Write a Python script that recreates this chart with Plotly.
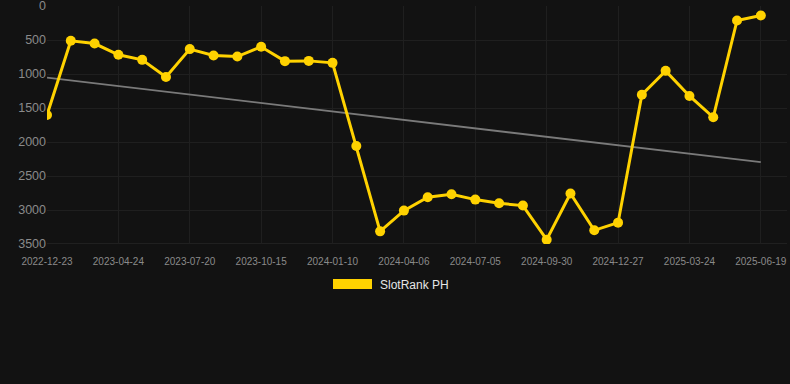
import plotly.graph_objects as go

dates = [
    "2022-12-23", "2023-01-31", "2023-03-10", "2023-04-24", "2023-05-23", "2023-06-21",
    "2023-07-20", "2023-08-18", "2023-09-16", "2023-10-15", "2023-11-13", "2023-12-12",
    "2024-01-10", "2024-02-08", "2024-03-08", "2024-04-06", "2024-05-06", "2024-06-05",
    "2024-07-05", "2024-08-03", "2024-09-01", "2024-09-30", "2024-10-29", "2024-11-28",
    "2024-12-27", "2025-01-25", "2025-02-23", "2025-03-24", "2025-04-22", "2025-05-21",
    "2025-06-19",
]
rank = [
    1603, 512, 552, 718, 792, 1043, 634, 729, 743, 600, 811, 807, 836, 2060,
    3314, 3009, 2813, 2768, 2847, 2901, 2935, 3437, 2758, 3299, 3186, 1304,
    954, 1323, 1637, 212, 139,
]
trend_x = [dates[0], dates[-1]]
trend_y = [1053, 2297]
tick_labels = dates[::3]
series_name = "SlotRank PH"
y_ticks = [0, 500, 1000, 1500, 2000, 2500, 3000, 3500]

BG = "#121212"
GOLD = "#FFD200"

fig = go.Figure()
fig.add_trace(go.Scatter(
    x=trend_x, y=trend_y, mode="lines",
    line=dict(color="#7a7a7a", width=1.8), showlegend=False, hoverinfo="skip",
))
fig.add_trace(go.Scatter(
    x=dates, y=rank, mode="lines+markers", name=series_name,
    line=dict(color=GOLD, width=3),
    marker=dict(color=GOLD, size=10),
    showlegend=False,
))

fig.add_shape(type="rect", xref="paper", yref="paper",
              x0=(333 - 47) / 740, x1=(372 - 47) / 740,
              y0=(244 - 289) / 238, y1=(244 - 279) / 238,
              fillcolor=GOLD, line=dict(width=0))
fig.add_annotation(xref="paper", yref="paper", x=(378 - 47) / 740, y=(244 - 284.5) / 238,
                   text=series_name, showarrow=False, xanchor="left", yanchor="middle",
                   font=dict(family="Liberation Sans, Arial", size=12, color="#e6e6e6"))

fig.update_layout(
    width=790, height=384,
    margin=dict(l=47, r=3, t=6, b=140, autoexpand=False),
    paper_bgcolor=BG, plot_bgcolor=BG,
    font=dict(family="Liberation Sans, Arial", color="#8a8a8a"),
    showlegend=False,
    xaxis=dict(
        type="category", categoryorder="array", categoryarray=dates,
        range=[0, 31.1], tickvals=tick_labels, ticktext=tick_labels,
        showgrid=True, gridcolor="#1f1f1f", gridwidth=1,
        zeroline=False, showline=False, automargin=False,
        ticks="outside", ticklen=8, tickcolor="rgba(0,0,0,0)",
        tickfont=dict(size=10, color="#8a8a8a"),
        ticklabeloverflow="allow",
    ),
    yaxis=dict(
        range=[3500, 0], tickvals=y_ticks, automargin=False,
        showgrid=True, gridcolor="#1f1f1f", gridwidth=1,
        zeroline=False, showline=False, ticks="",
        tickfont=dict(size=12.5, color="#8a8a8a"),
        ticklabeloverflow="allow",
    ),
)
fig.add_shape(type="line", xref="paper", yref="y", x0=0, x1=1, y0=3500, y1=3500,
              line=dict(color="#2e2e2e", width=1), layer="below")

fig.write_html("out.html",
               config={"displayModeBar": False},
               post_script="document.body.style.margin='0';document.body.style.background='#121212';")
